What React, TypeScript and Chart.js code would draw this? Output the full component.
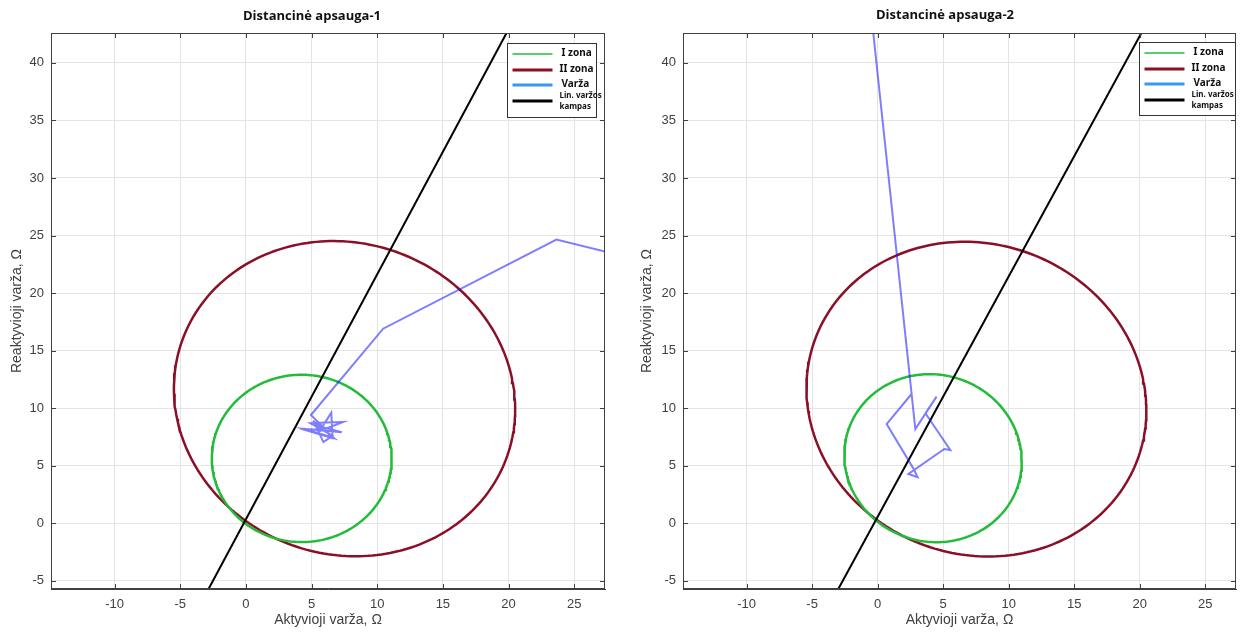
import React, { useEffect, useRef } from 'react';
import { Chart, registerables } from 'chart.js';

Chart.register(...registerables);

// ---------- data (units: Ohm) ----------
const X_RANGE = [-14.85, 27.35];
const Y_RANGE = [-5.72, 42.6];
const TICK_STEP = 5;

const titles = ['Distancinė apsauga-1', 'Distancinė apsauga-2'];
const xAxisTitle = 'Aktyvioji varža, Ω';
const yAxisTitle = 'Reaktyvioji varža, Ω';
const legendLabels = ['I zona', 'II zona', 'Varža', 'Lin. varžos kampas'];

// zone characteristics: [centre R, centre X, half-width, half-height, skew-x, skew-y]
const zoneI_1 = [4.25, 5.63, 6.85, 7.27, 0.12, -0.14];
const zoneII_1 = [7.51, 10.82, 12.99, 13.69, -0.45, -0.42];
const zoneI_2 = [4.23, 5.65, 6.77, 7.3, -0.12, -0.15];
const zoneII_2 = [7.54, 10.78, 12.96, 13.67, -0.51, -0.42];

// line impedance angle (end points)
const linX1 = [-2.85, 19.85];
const linY1 = [-5.72, 42.6];
const linX2 = [-3.0, 20.13];
const linY2 = [-5.72, 42.6];

// impedance trajectory
const varzaX1 = [27.35, 23.65, 10.45, 4.95, 6.0, 4.5, 6.6, 6.5, 5.6, 7.4, 4.9, 6.6, 5.9, 5.3, 7.3, 4.4, 6.7, 5.1, 6.2, 6.6];
const varzaY1 = [23.6, 24.65, 16.9, 9.4, 8.2, 8.1, 7.4, 9.6, 8.0, 8.8, 8.7, 7.6, 7.05, 8.5, 7.9, 8.2, 7.4, 8.9, 7.9, 7.35];
const varzaX2 = [-0.33, 2.88, 4.5, 3.65, 5.55, 5.09, 2.35, 3.05, 2.8, 0.69, 2.62];
const varzaY2 = [42.6, 8.18, 11.0, 9.55, 6.36, 6.45, 4.28, 3.99, 4.62, 8.61, 11.27];

// ---------- helpers ----------
function zonePoints(p: number[]) {
  const [cx, cy, rx, ry, sx, sy] = p;
  const pts: { x: number; y: number }[] = [];
  const n = 240;
  for (let i = 0; i <= n; i++) {
    const t = (i / n) * Math.PI * 2;
    pts.push({ x: cx + rx * Math.cos(t) + sx * Math.sin(t), y: cy + ry * Math.sin(t) + sy * Math.cos(t) });
  }
  return pts;
}
function pairs(xs: number[], ys: number[]) {
  return xs.map((x, i) => ({ x, y: ys[i] }));
}

const TEXT_COLOR = '#404040';
const AXIS_COLOR = '#404040';
const GRID_COLOR = '#e4e4e4';
const GREEN = '#22bb3a';
const DARKRED = '#8a1027';
const BLUE_TRACE = 'rgba(20, 20, 255, 0.55)';
const BLUE_LEGEND = '#3a96f0';

const framePlugin = {
  id: 'framePlugin',
  afterDraw(chart: any, _args: any, opts: any) {
    const ctx = chart.ctx as CanvasRenderingContext2D;
    const a = chart.chartArea;
    const xs = chart.scales.x;
    const ys = chart.scales.y;
    ctx.save();
    // frame
    ctx.strokeStyle = AXIS_COLOR;
    ctx.lineWidth = 1;
    ctx.strokeRect(Math.round(a.left) + 0.5, Math.round(a.top) + 0.5, Math.round(a.right - a.left) - 1, Math.round(a.bottom - a.top) - 1);
    // inward ticks
    const tl = 5;
    ctx.beginPath();
    xs.ticks.forEach((t: any) => {
      const p = Math.round(xs.getPixelForValue(t.value)) + 0.5;
      ctx.moveTo(p, a.bottom);
      ctx.lineTo(p, a.bottom - tl);
      ctx.moveTo(p, a.top);
      ctx.lineTo(p, a.top + tl);
    });
    ys.ticks.forEach((t: any) => {
      const p = Math.round(ys.getPixelForValue(t.value)) + 0.5;
      ctx.moveTo(a.left, p);
      ctx.lineTo(a.left + tl, p);
      ctx.moveTo(a.right, p);
      ctx.lineTo(a.right - tl, p);
    });
    ctx.stroke();

    // title
    ctx.fillStyle = '#111';
    ctx.font = "bold 13px 'Open Sans', 'Noto Sans', sans-serif";
    ctx.textAlign = 'center';
    ctx.textBaseline = 'middle';
    ctx.fillText(opts.title, opts.titleX, opts.titleY);

    // legend
    const bw = opts.legendW;
    const bh = opts.legendH;
    const bx = Math.round(a.right - opts.legendRight - bw) + 0.5;
    const by = opts.legendTop + 0.5;
    ctx.fillStyle = '#fff';
    ctx.fillRect(bx, by, bw, bh);
    ctx.strokeStyle = '#333';
    ctx.lineWidth = 1;
    ctx.strokeRect(bx, by, bw, bh);
    const items = [
      { c: GREEN, w: 1.5, y: 10 },
      { c: DARKRED, w: 3, y: 26 },
      { c: BLUE_LEGEND, w: 3, y: 41 },
      { c: '#000', w: 3, y: 57 },
    ];
    items.forEach((it) => {
      ctx.strokeStyle = it.c;
      ctx.lineWidth = it.w;
      ctx.beginPath();
      ctx.moveTo(bx + 5, Math.round(by + it.y));
      ctx.lineTo(bx + 45, Math.round(by + it.y));
      ctx.stroke();
    });
    ctx.fillStyle = '#111';
    ctx.textAlign = 'left';
    ctx.font = "bold 10px 'Noto Sans', sans-serif";
    ctx.fillText(legendLabels[0], bx + 54, by + 10);
    ctx.fillText(legendLabels[1], bx + 52, by + 26);
    ctx.fillText(legendLabels[2], bx + 54, by + 41);
    ctx.font = "bold 8px 'Noto Sans', sans-serif";
    const parts = legendLabels[3].split(' ');
    ctx.fillText(parts[0] + ' ' + parts[1], bx + 52, by + 52);
    ctx.fillText(parts[2], bx + 52, by + 63);
    ctx.restore();
  },
};

type PanelProps = {
  idx: number;
  left: number;
  width: number;
  yAxisWidth: number;
  rightPad: number;
  titleX: number;
  titleY: number;
  legendRight: number;
  legendW: number;
  legendTop: number;
  legendH: number;
};

function Panel(p: PanelProps) {
  const ref = useRef<HTMLCanvasElement | null>(null);
  useEffect(() => {
    if (!ref.current) return;
    const zI = p.idx === 0 ? zoneI_1 : zoneI_2;
    const zII = p.idx === 0 ? zoneII_1 : zoneII_2;
    const lin = p.idx === 0 ? pairs(linX1, linY1) : pairs(linX2, linY2);
    const varza = p.idx === 0 ? pairs(varzaX1, varzaY1) : pairs(varzaX2, varzaY2);
    const tickFont = { family: "'Liberation Sans', Arial, sans-serif", size: 13 };
    const titleFont = { family: "'Liberation Sans', Arial, sans-serif", size: 14 };
    const chart = new Chart(ref.current, {
      type: 'scatter',
      data: {
        datasets: [
          { label: legendLabels[2], data: varza, showLine: true, borderColor: BLUE_TRACE, borderWidth: 2, pointRadius: 0, order: 0, tension: 0 },
          { label: legendLabels[3], data: lin, showLine: true, borderColor: '#000', borderWidth: 2, pointRadius: 0, order: 1 },
          { label: legendLabels[0], data: zonePoints(zI), showLine: true, borderColor: GREEN, borderWidth: 2.5, pointRadius: 0, order: 2 },
          { label: legendLabels[1], data: zonePoints(zII), showLine: true, borderColor: DARKRED, borderWidth: 2.5, pointRadius: 0, order: 3 },
        ],
      },
      options: {
        animation: false,
        responsive: false,
        maintainAspectRatio: false,
        devicePixelRatio: 1,
        layout: { padding: { top: 33, right: p.rightPad, left: 0, bottom: 0 } },
        plugins: {
          legend: { display: false },
          tooltip: { enabled: false },
          title: { display: false },
          framePlugin: {
            title: titles[p.idx],
            titleX: p.titleX,
            titleY: p.titleY,
            legendRight: p.legendRight,
            legendW: p.legendW,
            legendTop: p.legendTop,
            legendH: p.legendH,
          },
        } as any,
        scales: {
          x: {
            type: 'linear',
            min: X_RANGE[0],
            max: X_RANGE[1],
            ticks: { stepSize: TICK_STEP, includeBounds: false, font: tickFont, color: TEXT_COLOR, padding: 8, maxRotation: 0 },
            grid: { color: GRID_COLOR, drawTicks: false },
            border: { color: AXIS_COLOR },
            title: { display: true, text: xAxisTitle, font: titleFont, color: TEXT_COLOR, padding: { top: 0, bottom: 5 } },
            afterFit(s: any) {
              s.height = 45;
            },
          },
          y: {
            type: 'linear',
            min: Y_RANGE[0],
            max: Y_RANGE[1],
            ticks: { stepSize: TICK_STEP, includeBounds: false, font: tickFont, color: TEXT_COLOR, padding: 7 },
            grid: { color: GRID_COLOR, drawTicks: false },
            border: { color: AXIS_COLOR },
            title: { display: true, text: yAxisTitle, font: titleFont, color: TEXT_COLOR, padding: { top: 9, bottom: 0 } },
            afterFit(s: any) {
              s.width = p.yAxisWidth;
            },
          },
        } as any,
      },
      plugins: [framePlugin as any],
    });
    return () => chart.destroy();
  }, []);
  return (
    <canvas
      ref={ref}
      width={p.width}
      height={634}
      style={{ position: 'absolute', left: p.left, top: 0, width: p.width, height: 634 }}
    />
  );
}

export default function App() {
  return (
    <div style={{ position: 'fixed', left: 0, top: 0, width: 1246, height: 634, background: '#fff', overflow: 'hidden' }}>
      <Panel idx={0} left={0} width={616} yAxisWidth={51} rightPad={11} titleX={312} titleY={16}
        legendRight={9} legendW={89} legendTop={43} legendH={74} />
      <Panel idx={1} left={630} width={616} yAxisWidth={53} rightPad={10} titleX={315} titleY={15}
        legendRight={1} legendW={96} legendTop={42} legendH={73} />
    </div>
  );
}
